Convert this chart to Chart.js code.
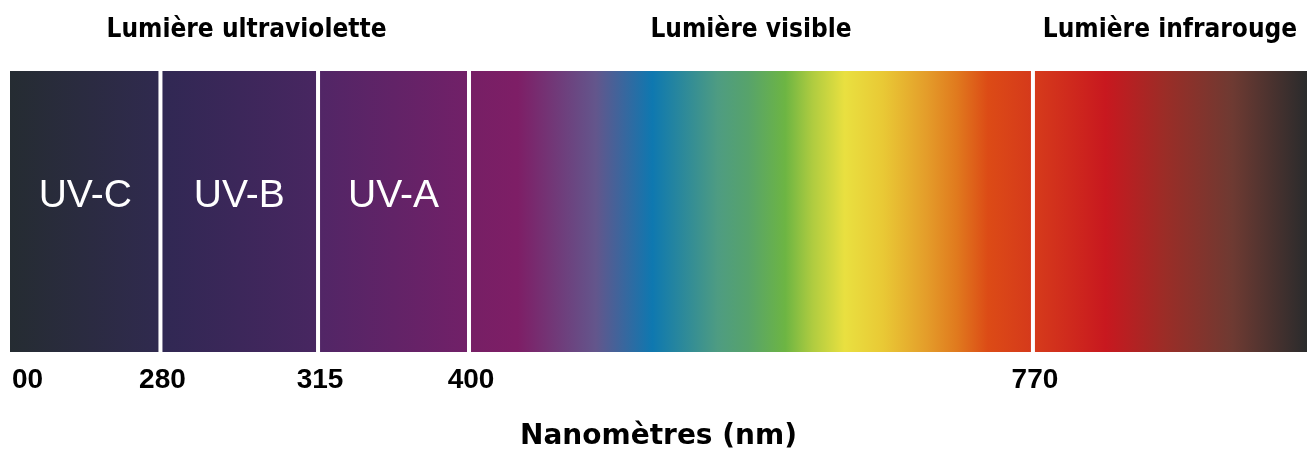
<!DOCTYPE html>
<html>
<head>
<meta charset="utf-8">
<script src="https://cdn.jsdelivr.net/npm/chart.js@4"></script>
<style>
  html, body { margin: 0; padding: 0; background: #fff; }
  #wrap { width: 1309px; height: 455px; }
</style>
</head>
<body>
<div id="wrap"><canvas id="spectre" width="1309" height="455"></canvas></div>
<script>
// DATOS
const bandes = ["UV-C", "UV-B", "UV-A", "", ""];
const debutNm = [100, 280, 315, 400, 770];
const finNm = [280, 315, 400, 770, 1000];
const graduations = [100, 280, 315, 400, 770];
const etiquettes = ["00", "280", "315", "400", "770"];
const domaines = ["Lumière ultraviolette", "Lumière visible", "Lumière infrarouge"];
const domaineDebut = [100, 400, 770];
const domaineFin = [400, 770, 1000];
const titreAxe = "Nanomètres (nm)";
// DATOS END

// couleurs des bandes (style)
const degrades = [
  [[0, "#252c32"], [1, "#302a4f"]],
  [[0, "#302853"], [1, "#482661"]],
  [[0, "#512666"], [1, "#722068"]],
  [[0, "#761f65"], [0.086, "#7e1e66"], [0.225, "#63568c"], [0.325, "#0e78b0"],
   [0.441, "#4e9c82"], [0.495, "#57a36b"], [0.561, "#6db543"], [0.61, "#b0cc40"],
   [0.666, "#e9e040"], [0.734, "#e9c935"], [0.811, "#e49d2a"], [0.865, "#e07a1e"],
   [0.92, "#dc4b16"], [1, "#d5391b"]],
  [[0, "#d63c1b"], [0.265, "#c8181f"], [0.485, "#9a2d27"], [0.728, "#6e3a32"], [1, "#2a2b2c"]],
];
// position des ruptures sur l'axe (fraction de la largeur)
const ruptures = [100, 280, 315, 400, 770, 1000];
const fractions = [0, 0.1160, 0.2375, 0.3539, 0.7887, 1];

// ECHELLE A RUPTURES -------------------------------------------
class EchelleRuptures extends Chart.LinearScale {
  getPixelForValue(value) {
    let i = 0;
    while (i < ruptures.length - 2 && value > ruptures[i + 1]) i++;
    const t = (value - ruptures[i]) / (ruptures[i + 1] - ruptures[i]);
    return this.getPixelForDecimal(fractions[i] + t * (fractions[i + 1] - fractions[i]));
  }
  getValueForPixel(pixel) {
    const d = this.getDecimalForPixel(pixel);
    let i = 0;
    while (i < fractions.length - 2 && d > fractions[i + 1]) i++;
    const t = (d - fractions[i]) / (fractions[i + 1] - fractions[i]);
    return ruptures[i] + t * (ruptures[i + 1] - ruptures[i]);
  }
  buildTicks() {
    return graduations.map((v) => ({ value: v }));
  }
}
EchelleRuptures.id = "ruptures";
EchelleRuptures.defaults = Chart.LinearScale.defaults;
Chart.register(EchelleRuptures);

function degrade(ctx) {
  const chart = ctx.chart;
  const x = chart.scales.x;
  if (!chart.chartArea || !x) return "#444";
  const i = ctx.datasetIndex;
  const x0 = x.getPixelForValue(debutNm[i]);
  const x1 = x.getPixelForValue(finNm[i]);
  const g = chart.ctx.createLinearGradient(x0, 0, x1, 0);
  degrades[i].forEach((s) => g.addColorStop(s[0], s[1]));
  return g;
}

// textes dans les bandes et au-dessus
const textes = {
  id: "textes",
  afterDatasetsDraw(chart) {
    const c = chart.ctx;
    const x = chart.scales.x;
    const area = chart.chartArea;
    c.save();
    c.fillStyle = "#fff";
    c.font = "39px 'Liberation Sans', Arial, sans-serif";
    c.textAlign = "center";
    c.textBaseline = "alphabetic";
    bandes.forEach((b, i) => {
      if (!b) return;
      const el = chart.getDatasetMeta(i).data[0];
      const px = (x.getPixelForValue(debutNm[i]) + x.getPixelForValue(finNm[i])) / 2;
      c.fillText(b, px, el.y - 5);
    });
    c.fillStyle = "#000";
    c.font = "bold 26px 'DejaVu Sans Condensed', 'DejaVu Sans', sans-serif";
    domaines.forEach((d, i) => {
      let px = (x.getPixelForValue(domaineDebut[i]) + x.getPixelForValue(domaineFin[i])) / 2;
      if (i === 0) px += 7;
      c.fillText(d, px, area.top - 34);
    });
    c.restore();
  },
};

function graphique() {
  const datasets = bandes.map((b, i) => ({
    label: b,
    data: [[debutNm[i], finNm[i]]],
    backgroundColor: degrade,
    borderColor: "#fff",
    borderWidth: {
      left: i === 0 ? 0 : 2,
      right: i === bandes.length - 1 ? 0 : 2,
      top: 0,
      bottom: 0,
    },
    borderSkipped: false,
    inflateAmount: 0,
    grouped: false,
    barPercentage: 1,
    categoryPercentage: 1,
  }));
  const config = {
    type: "bar",
    data: { labels: ["spectre"], datasets: datasets },
    options: {
      indexAxis: "y",
      responsive: false,
      animation: false,
      layout: { padding: { top: 71, left: 10, right: 2, bottom: 0 } },
      plugins: { legend: { display: false }, tooltip: { enabled: false } },
      scales: {
        y: { display: false },
        x: {
          type: "ruptures",
          min: 100,
          max: 1000,
          grid: { display: false, drawTicks: false },
          border: { display: false },
          ticks: {
            autoSkip: false,
            maxRotation: 0,
            padding: 11,
            labelOffset: 2,
            color: "#000",
            font: { family: "'Liberation Sans', Arial, sans-serif", size: 28, weight: "bold" },
            callback: function (value, index) {
              const t = etiquettes[index];
              return index === 0 ? "\u2007\u2007" + t : t;
            },
          },
          title: {
            display: true,
            text: titreAxe,
            color: "#000",
            padding: { top: 0, bottom: 1 },
            font: { family: "'DejaVu Sans', sans-serif", size: 28, weight: "bold" },
          },
          afterFit: function (scale) {
            scale.height = 103;
            scale.paddingLeft = 0;
            scale.paddingRight = 0;
          },
        },
      },
    },
    plugins: [textes],
  };
  new Chart(document.getElementById("spectre"), config);
}

graphique();
</script>
</body>
</html>
